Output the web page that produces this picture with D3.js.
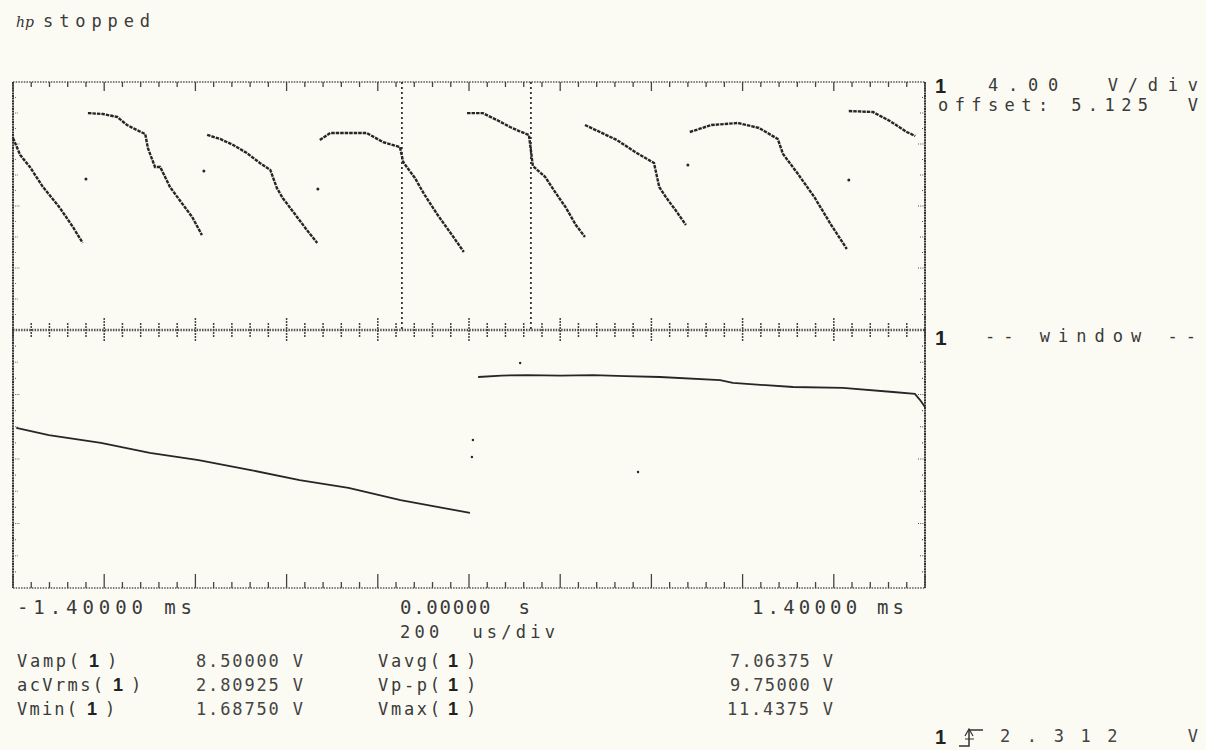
<!DOCTYPE html>
<html><head><meta charset="utf-8">
<script src="https://cdn.jsdelivr.net/npm/d3@7"></script>
<style>body{margin:0;background:#fbfbf4}svg{display:block}</style>
</head><body><svg id="c" width="1206" height="750"></svg>
<script>
// ---- DATA (main timebase, ms / V) ----
const mainSeg1 = [[-7.0,9.51],[-6.89,8.42],[-6.74,7.64],[-6.54,6.35],[-6.28,5.00],[-6.08,3.77],[-5.93,2.74]];
const mainSeg2 = [[-5.85,11.12],[-5.62,11.06],[-5.40,10.87],[-5.25,10.35],[-5.10,10.03],[-4.97,9.77],[-4.93,8.87],[-4.82,7.64],[-4.74,7.64],[-4.59,6.35],[-4.41,5.32],[-4.25,4.42],[-4.10,3.25]];
const mainSeg3 = [[-4.02,9.71],[-3.82,9.45],[-3.62,9.06],[-3.41,8.54],[-3.21,7.90],[-3.05,7.45],[-2.95,6.29],[-2.86,5.64],[-2.64,4.42],[-2.49,3.58],[-2.33,2.74]];
const mainSeg4 = [[-2.29,9.38],[-2.13,9.83],[-1.83,9.83],[-1.57,9.83],[-1.32,9.25],[-1.06,8.93],[-1.01,7.96],[-0.83,6.93],[-0.69,5.90],[-0.48,4.54],[-0.26,3.25],[-0.08,2.16]];
const mainSeg5 = [[-0.03,11.12],[0.21,11.12],[0.43,10.67],[0.63,10.22],[0.77,9.96],[0.92,9.71],[0.98,7.71],[1.17,7.00],[1.30,6.16],[1.49,5.00],[1.64,3.90],[1.78,3.13]];
const mainSeg6 = [[1.78,10.35],[2.01,9.90],[2.27,9.38],[2.55,8.61],[2.84,7.90],[2.92,6.35],[3.02,5.71],[3.18,4.80],[3.33,3.90]];
const mainSeg7 = [[3.39,9.90],[3.72,10.35],[4.13,10.48],[4.45,10.16],[4.74,9.45],[4.82,8.48],[5.04,7.25],[5.30,5.71],[5.56,3.90],[5.80,2.35]];
const mainSeg8 = [[5.83,11.25],[6.20,11.19],[6.46,10.61],[6.72,9.90],[6.85,9.64]];
const mainDots = [[-5.88,6.87],[-4.07,7.38],[-2.32,6.22],[3.36,7.77],[5.83,6.80]];
const windowMarkers = [-1.03, 0.95];
// ---- DATA (window timebase, ms / V) ----
const winTrace1 = [[-1.39,7.05],[-1.29,6.61],[-1.13,6.12],[-0.98,5.50],[-0.83,5.06],[-0.67,4.44],[-0.52,3.82],[-0.37,3.33],[-0.21,2.58],[0.003,1.78]];
const winTrace2 = [[0.028,10.21],[0.10,10.30],[0.178,10.33],[0.28,10.30],[0.381,10.33],[0.48,10.27],[0.586,10.21],[0.771,10.02],[0.81,9.84],[0.995,9.59],[1.148,9.53],[1.302,9.28],[1.369,9.16],[1.385,8.78],[1.40,8.35]];
const winDots = [[0.012,6.30],[0.009,5.25],[0.157,11.08],[0.519,4.32]];
// ---- TEXT ----
const axisLabels = ["-1.40000 ms", "0.00000  s", "1.40000 ms"];
const timebaseLabel = "200  us/div";
const measureNamesL = ["Vamp(", "acVrms(", "Vmin("];
const measureValuesL = ["8.50000 V", "2.80925 V", "1.68750 V"];
const measureNamesR = ["Vavg(", "Vp-p(", "Vmax("];
const measureValuesR = ["7.06375 V", "9.75000 V", "11.4375 V"];
const scaleLabel = "4.00  V/div";
const offsetLabel = "offset: 5.125  V";
const windowLabel = "-- window --";
const triggerLabel = "2.312  V";

const svg = d3.select("#c");
svg.append("rect").attr("width",1206).attr("height",750).attr("fill","#fbfbf4");
const L=13, R=925, T=82, M=330, B=588;
const xMain = d3.scaleLinear().domain([-7,7]).range([L,R]);
const yMain = d3.scaleLinear().domain([-2.875,13.125]).range([M,T]);
const xWin = d3.scaleLinear().domain([-1.4,1.4]).range([L,R]);
const yWin = d3.scaleLinear().domain([-2.875,13.125]).range([B,M]);
const gx = d3.scaleLinear().domain([0,10]).range([L,R]);
const ink = "#262626";

// graticule borders
const g = svg.append("g");
[T,M,B].forEach(y=>{
  g.append("line").attr("x1",L).attr("x2",R).attr("y1",y).attr("y2",y)
   .attr("stroke","#555").attr("stroke-width",y===M?2.4:1.4).attr("stroke-dasharray","1.5,1.2");
});
[L,R].forEach(x=>{
  g.append("line").attr("x1",x).attr("x2",x).attr("y1",T).attr("y2",B)
   .attr("stroke","#333").attr("stroke-width",2).attr("stroke-dasharray","2,0.6");
});
const hticks = d3.range(0,51).map(i=>i/5);
hticks.forEach((d,i)=>{
  const x = gx(d), major = i%5===0;
  g.append("line").attr("x1",x).attr("x2",x).attr("y1",T).attr("y2",T+(major?9:5)).attr("stroke","#444").attr("stroke-width",1.3);
  g.append("line").attr("x1",x).attr("x2",x).attr("y1",M-(major?12:7)).attr("y2",M+(major?12:7)).attr("stroke","#444").attr("stroke-width",1.5).attr("stroke-dasharray","2,1");
  g.append("line").attr("x1",x).attr("x2",x).attr("y1",B-(major?14:6)).attr("y2",B).attr("stroke","#444").attr("stroke-width",1.3);
});
const vlen = [7,3,5,3];
[[T,M],[M,B]].forEach(([a,b])=>{
  d3.range(1,16).forEach(i=>{
    const y = a + i*(b-a)/16, len = vlen[i%4];
    g.append("line").attr("x1",L).attr("x2",L+len).attr("y1",y).attr("y2",y).attr("stroke","#555").attr("stroke-width",1.2).attr("stroke-dasharray","1,1.2");
    g.append("line").attr("x1",R-len).attr("x2",R).attr("y1",y).attr("y2",y).attr("stroke","#555").attr("stroke-width",1.2).attr("stroke-dasharray","1,1.2");
  });
});
// window markers
windowMarkers.forEach(t=>{
  g.append("line").attr("x1",xMain(t)).attr("x2",xMain(t)).attr("y1",T).attr("y2",M)
   .attr("stroke","#333").attr("stroke-width",1.8).attr("stroke-dasharray","2,3");
});

// traces
const lineMain = d3.line().x(d=>xMain(d[0])).y(d=>yMain(d[1]));
const lineWin = d3.line().x(d=>xWin(d[0])).y(d=>yWin(d[1]));
[mainSeg1,mainSeg2,mainSeg3,mainSeg4,mainSeg5,mainSeg6,mainSeg7,mainSeg8].forEach(s=>{
  svg.append("path").attr("d",lineMain(s)).attr("fill","none").attr("stroke",ink).attr("stroke-width",2.4).attr("stroke-dasharray","3.5,1");
});
svg.selectAll(".md").data(mainDots).enter().append("circle").attr("cx",d=>xMain(d[0])).attr("cy",d=>yMain(d[1])).attr("r",1.5).attr("fill",ink);
[winTrace1,winTrace2].forEach(s=>{
  svg.append("path").attr("d",lineWin(s)).attr("fill","none").attr("stroke",ink).attr("stroke-width",1.8);
});
svg.selectAll(".wd").data(winDots).enter().append("circle").attr("cx",d=>xWin(d[0])).attr("cy",d=>yWin(d[1])).attr("r",1.2).attr("fill",ink);

// text helpers
const mono = "'DejaVu Sans Mono', monospace";
function txt(x,y,s,len,size,col){
  const t = svg.append("text").attr("x",x).attr("y",y).text(s)
    .attr("font-family",mono).attr("font-size",size||18).attr("fill",col||"#3a3a3a")
    .style("white-space","pre").attr("xml:space","preserve");
  if(len) t.attr("textLength",len).attr("lengthAdjust","spacing");
  return t;
}
function one(x,y,size){
  return svg.append("text").attr("x",x).attr("y",y).text("1")
    .attr("font-family","'Liberation Sans', Arial, sans-serif").attr("font-weight","bold")
    .attr("font-size",size||18).attr("fill","#222");
}
svg.append("text").attr("x",16).attr("y",27).text("hp").attr("font-family","'DejaVu Serif', serif")
  .attr("font-style","italic").attr("font-size",14).attr("fill","#333");
txt(43,27,"stopped",107,17);

one(935,93,20);
txt(988,91,scaleLabel,210,17);
txt(938,111,offsetLabel,260,17);
one(935,345,21);
txt(985,342,windowLabel,211,17);

txt(17,614,axisLabels[0],175,19);
txt(400,614,axisLabels[1],130,19);
txt(752,614,axisLabels[2],152,19);
txt(400,638,timebaseLabel,155,17);

const rowsY = [667,691,715];
const prefLenL = [62,86,60];
rowsY.forEach((y,i)=>{
  txt(17,y,measureNamesL[i],prefLenL[i],17);
  const ox = 17+prefLenL[i];
  one(ox+10,y,18); txt(ox+28,y,")",null,17);
  txt(196,y,measureValuesL[i],107,17,"#444");
  txt(378,y,measureNamesR[i],62,17);
  one(448,y,18); txt(466,y,")",null,17);
  const w = i===2?106:103;
  txt(833-w,y,measureValuesR[i],w,17,"#444");
});
// trigger
one(935,744,20);
svg.append("path").attr("d","M959,746 H969 V730 H983").attr("fill","none").attr("stroke","#333").attr("stroke-width",1.5);
svg.append("path").attr("d","M965,736 L969,729 L973,736 M965,739 H974").attr("fill","none").attr("stroke","#333").attr("stroke-width",1.2);
txt(1000,742,triggerLabel,198,17,"#444");
</script></body></html>
